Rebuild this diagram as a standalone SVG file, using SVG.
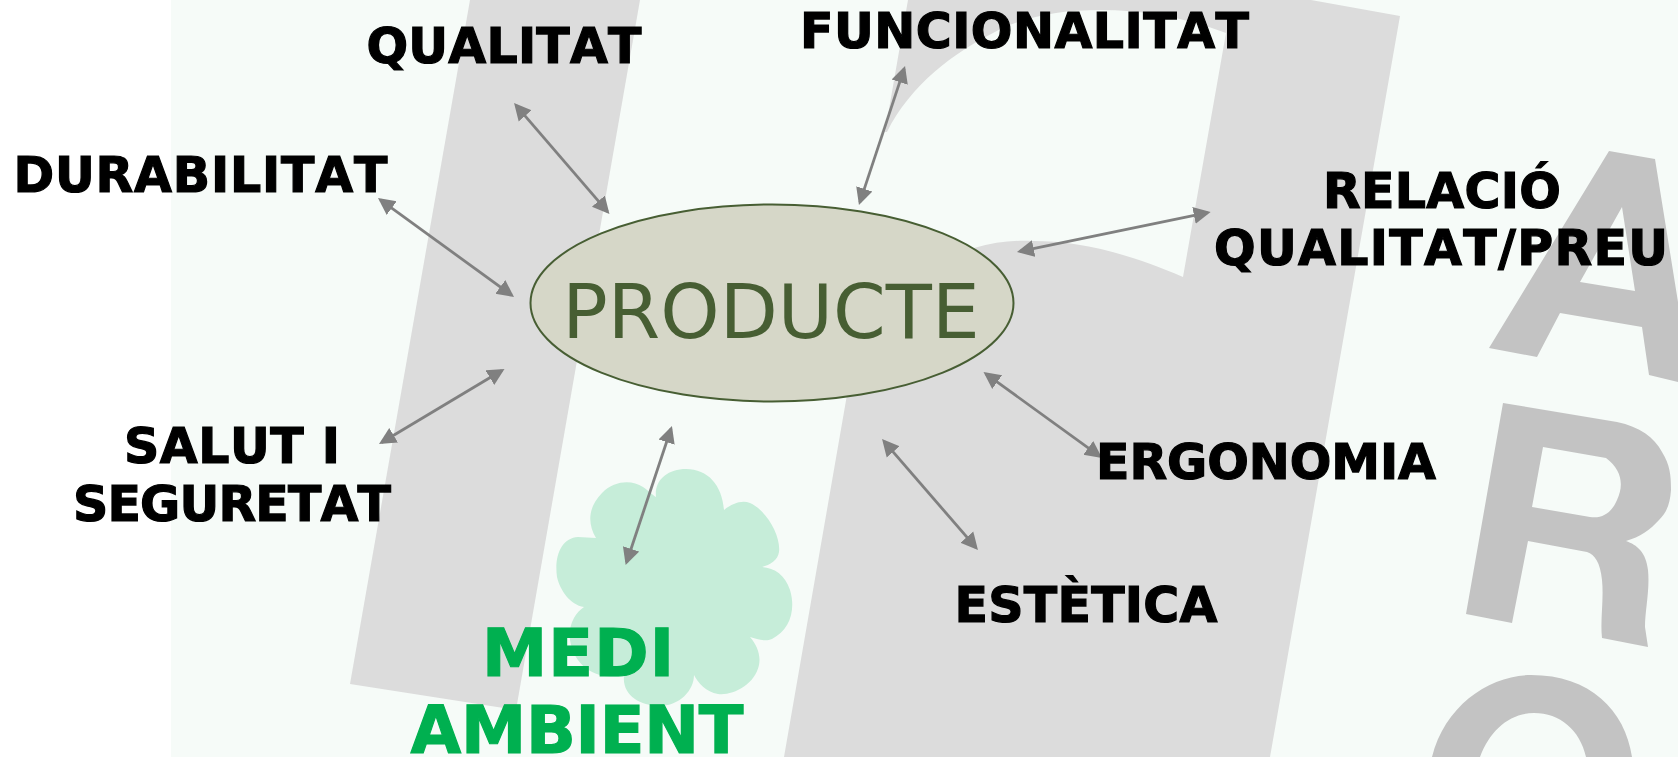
<svg xmlns="http://www.w3.org/2000/svg" width="1678" height="757" viewBox="0 0 1678 757">
<style>
.lbl{font-family:"DejaVu Sans",Verdana,sans-serif;font-weight:700;font-size:49px;fill:#000;stroke:#000;stroke-width:1.2;text-anchor:middle;font-kerning:none}
.grn{font-size:65.5px;fill:#00b050;stroke:#00b050}
.wm{fill:#dcdcdc}
.wd{fill:#c3c3c3;fill-rule:evenodd}
.arr{stroke:#808080;stroke-width:2.8;fill:none;marker-start:url(#ah);marker-end:url(#ah)}
</style>
<defs>
<marker id="ah" markerUnits="userSpaceOnUse" markerWidth="19" markerHeight="19" refX="14" refY="9" orient="auto-start-reverse"><path d="M0 0.5L17 9L0 17.5Z" fill="#808080"/></marker>
</defs>
<g id="background">
<rect width="1678" height="757" fill="#fff"/>
<rect x="171" width="1507" height="757" fill="#f6fbf8"/>
<path class="wm" d="M470 0H640L516 710L350 684Z"/>
<path class="wm" d="M908 0H1311L1400 16L1270 757H784L860 320L974 248C995 242 1015 240 1033 241C1075 241 1120 250 1183 277L1226 33C1185 17 1140 10 1100 10C1060 10 1025 16 993 33C955 52 910 85 887 132H885Z"/>
<path class="wd" d="M1609 151L1655 159L1678 302V382L1649 375L1642 327L1560 313L1537 357L1489 348ZM1622 207L1580 282L1635 291Z"/>
<path class="wd" d="M1503 403L1617 422C1640 427 1654 437 1662 452C1670 465 1671 475 1671 490C1670 505 1666 513 1659 520C1650 530 1640 537 1626 541C1637 545 1646 552 1648 570C1650 590 1645 610 1645 627L1648 647L1602 638C1600 620 1604 600 1602 580C1600 562 1595 555 1587 552L1528 541L1512 623L1466 614ZM1543 447L1532 507L1590 517C1603 519 1612 512 1617 500C1624 485 1622 470 1606 458Z"/>
<path class="wd" d="M1432 757C1445 705 1490 675 1531 675C1590 675 1625 710 1632 757H1586C1580 730 1560 713 1534 713C1510 713 1490 730 1480 757Z"/>
</g>
<g id="node-medi-ambient-cloud">
<path fill="#c6edd9" d="M656 497C654 480 668 469 686 469C708 469 722 485 724 510C733 503 742 500 750 503C766 510 781 535 779 552C778 560 770 565 762 567C775 568 785 575 790 590C796 610 790 630 772 639C765 642 757 639 750 637C757 645 761 655 759 665C755 685 732 696 718 694C706 692 698 683 694 675C694 690 680 706 659 706C640 706 622 695 624 676C600 680 575 670 570 640C568 625 575 613 584 607C570 605 560 590 557 577C554 555 562 538 578 537L596 538C588 525 587 508 602 493C615 480 632 480 643 487C650 492 654 496 656 497Z"/>
</g>
<g id="node-producte">
<ellipse cx="772" cy="303" rx="241.5" ry="98.5" fill="#d6d7c8" stroke="#475e33" stroke-width="2"/>
<text x="771" y="338" font-family="'DejaVu Sans',Verdana,sans-serif" font-size="75.5" fill="#475e33" text-anchor="middle">PRODUCTE</text>
</g>
<g id="connectors">
<line class="arr" x1="516" y1="105.3" x2="607.5" y2="211.7"/>
<line class="arr" x1="380.4" y1="199.8" x2="511.6" y2="295.2"/>
<line class="arr" x1="381.6" y1="442.5" x2="501.9" y2="370.5"/>
<line class="arr" x1="671" y1="428.8" x2="626.6" y2="562.2"/>
<line class="arr" x1="904.1" y1="68.9" x2="859.9" y2="202.1"/>
<line class="arr" x1="1207.7" y1="212.6" x2="1019.9" y2="251.4"/>
<line class="arr" x1="985.9" y1="373.8" x2="1099.6" y2="456.2"/>
<line class="arr" x1="884" y1="441.3" x2="976" y2="547.7"/>
</g>
<g id="node-qualitat"><text class="lbl" x="504" y="63" textLength="275">QUALITAT</text></g>
<g id="node-durabilitat"><text class="lbl" x="200.5" y="192" textLength="374">DURABILITAT</text></g>
<g id="node-funcionalitat"><text class="lbl" x="1024.5" y="48" textLength="449">FUNCIONALITAT</text></g>
<g id="node-relacio"><text class="lbl" x="1442" y="208" textLength="238">RELACIÓ</text><text class="lbl" x="1441" y="265" textLength="454">QUALITAT/PREU</text></g>
<g id="node-salut"><text class="lbl" x="232" y="463" textLength="216">SALUT I</text><text class="lbl" x="232" y="521" textLength="318">SEGURETAT</text></g>
<g id="node-ergonomia"><text class="lbl" x="1266" y="479" textLength="340">ERGONOMIA</text></g>
<g id="node-estetica"><text class="lbl" x="1086" y="622" textLength="263">ESTÈTICA</text></g>
<g id="node-medi-ambient"><text class="lbl grn" x="578" y="676" textLength="192">MEDI</text><text class="lbl grn" x="577" y="753" textLength="333">AMBIENT</text></g>
</svg>
